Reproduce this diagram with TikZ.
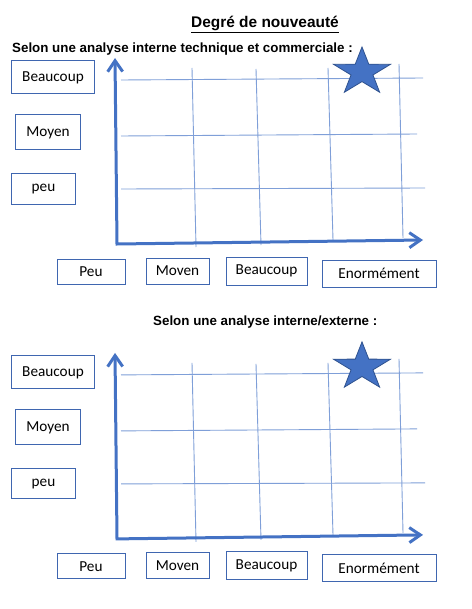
\documentclass[tikz,border=0pt]{standalone}
\usepackage{fontspec}
\setmainfont{Carlito}
\newfontfamily\hfont{Liberation Sans}
\usetikzlibrary{arrows.meta}
\definecolor{axisblue}{HTML}{4472C4}
\definecolor{gridblue}{HTML}{7F9FD8}
\definecolor{boxblue}{HTML}{3F66B0}
\definecolor{stardark}{HTML}{2F528F}
\tikzset{
  lbox/.style={draw=boxblue, line width=1bp, fill=white, inner sep=0pt,
    font=\fontsize{15.3}{16}\selectfont, text=black},
  gridline/.style={draw=gridblue, line width=0.9bp},
  axisline/.style={draw=axisblue, line width=3bp,
    arrows={Straight Barb[length=11bp,width=15bp]-Straight Barb[length=11bp,width=15bp]}},
  starshape/.style={fill=axisblue, draw=stardark, line width=0.8bp, line join=miter},
  titletext/.style={font=\hfont\bfseries\fontsize{15.5}{18}\selectfont, inner sep=0pt},
  subtext/.style={font=\hfont\bfseries\fontsize{13.4}{16}\selectfont, inner sep=0pt}
}
\newcommand\drawpanel[2]{%
  \begin{scope}[yshift=#2]
    % grid
    \draw[gridline] (192,68) -- (196,247);
    \draw[gridline] (256,69) -- (261,245);
    \draw[gridline] (328,68) -- (333,240);
    \draw[gridline] (399,64) -- (403,238);
    \draw[gridline] (121,80) -- (423,78);
    \draw[gridline] (121,136) -- (417,134);
    \draw[gridline] (121,189) -- (425,188);
    % axes
    \coordinate (#1o) at (117,244);
    \coordinate (#1ytip) at (115,58);
    \coordinate (#1xtip) at (423,240);
    \draw[axisline] (#1ytip) -- (#1o) -- (#1xtip);
    % star
    \begin{scope}[shift={(362,72)}, yscale=-1, xscale=1.2]
      \filldraw[starshape] (90:25) -- (126:9.6) -- (162:25) -- (198:9.6) -- (234:25)
        -- (270:9.6) -- (306:25) -- (342:9.6) -- (18:25) -- (54:9.6) -- cycle;
    \end{scope}
    % left boxes
    \node[lbox, minimum width=82bp, minimum height=33bp] (#1lb) at (53,77.5) {Beaucoup};
    \node[lbox, minimum width=64bp, minimum height=35bp] (#1lm) at (48,132.5) {Moyen};
    \node[lbox, minimum width=63bp, minimum height=30bp] (#1lp) at (43.5,189) {peu};
    % bottom boxes
    \node[lbox, minimum width=68bp, minimum height=25bp] (#1bp) at (91,271.5) {Peu};
    \node[lbox, minimum width=63bp, minimum height=26bp] (#1bm) at (177.5,271) {Moven};
    \node[lbox, minimum width=81bp, minimum height=28bp] (#1bb) at (266.5,271) {Beaucoup};
    \node[lbox, minimum width=114bp, minimum height=27bp] (#1be) at (379,273.5) {Enormément};
  \end{scope}}
\begin{document}
\begin{tikzpicture}[x=1bp,y=-1bp]
  \useasboundingbox (0,0) rectangle (472,609);
  \fill[white] (0,0) rectangle (472,609);
  \node[titletext, anchor=base] (title) at (265,28) {\underline{Degré de nouveauté}};
  \node[subtext, anchor=base west] (sub1) at (12,53) {Selon une analyse interne technique et commerciale :};
  \node[subtext, anchor=base west] (sub2) at (153,325) {Selon une analyse interne/externe :};
  \drawpanel{a}{0}
  \drawpanel{b}{-296}
\end{tikzpicture}
\end{document}
